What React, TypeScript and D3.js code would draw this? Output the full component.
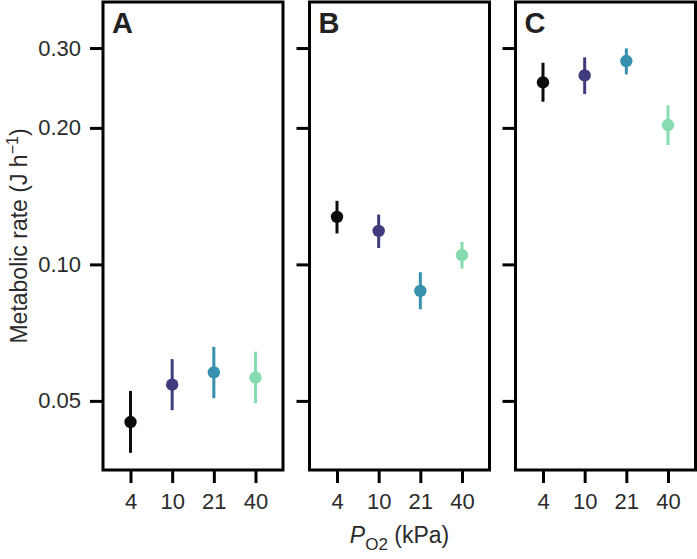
import React, { useEffect, useRef } from "react";
import { select, scaleLog, scalePoint, axisLeft, axisBottom } from "d3";

// x categories (PO2, kPa) and panel names
const pO2 = ["4", "10", "21", "40"];
const panels = ["A", "B", "C"];
const colors = ["#0b0b0b", "#3e3b7e", "#3591ad", "#86dcb0"];

// metabolic rate (J h-1), mean and error bar limits
const meanA = [0.0449, 0.0543, 0.0578, 0.0563];
const lowA = [0.0384, 0.0477, 0.0507, 0.0494];
const highA = [0.0526, 0.0618, 0.0658, 0.0642];

const meanB = [0.1273, 0.1185, 0.0874, 0.1048];
const lowB = [0.117, 0.1087, 0.0796, 0.0979];
const highB = [0.1381, 0.1288, 0.0961, 0.1121];

const meanC = [0.252, 0.2611, 0.2808, 0.2029];
const lowC = [0.2284, 0.2374, 0.2624, 0.1833];
const highC = [0.2784, 0.2861, 0.2995, 0.2242];

const yTicks = [0.05, 0.1, 0.2, 0.3];

const W = 697;
const H = 559;

function App() {
  const svgRef = useRef<SVGSVGElement>(null);

  useEffect(() => {
    const svg = select(svgRef.current);
    svg.selectAll("*").remove();

    const top = 2;
    const bottom = 470;
    const panelW = 180;
    const lefts = [103, 309.5, 515.5];
    const font = "'Liberation Sans', Arial, Helvetica, sans-serif";

    const yScale = scaleLog().domain([0.0352, 0.379]).range([bottom, top]);

    const series = [
      { mean: meanA, low: lowA, high: highA },
      { mean: meanB, low: lowB, high: highB },
      { mean: meanC, low: lowC, high: highC },
    ];

    panels.forEach((name, i) => {
      const left = lefts[i];
      const xScale = scalePoint()
        .domain(pO2)
        .range([left, left + panelW])
        .padding(0.66);

      const g = svg.append("g");

      // y axis (labels only on first panel)
      const yAxis = axisLeft(yScale)
        .tickValues(yTicks)
        .tickSize(13)
        .tickPadding(9)
        .tickFormat((d: any) => (i === 0 ? Number(d).toFixed(2) : ""));
      const ya = g.append("g").attr("transform", `translate(${left},0)`).call(yAxis);
      ya.select(".domain").remove();
      ya.selectAll("line").attr("stroke", "#000").attr("stroke-width", 3);
      ya.selectAll("text")
        .attr("fill", "#2b2b2b")
        .style("font-family", font)
        .style("font-size", "22px");

      // x axis
      const xAxis = axisBottom(xScale).tickSize(13).tickPadding(10);
      const xa = g.append("g").attr("transform", `translate(0,${bottom})`).call(xAxis);
      xa.select(".domain").remove();
      xa.selectAll("line").attr("stroke", "#000").attr("stroke-width", 3);
      xa.selectAll("text")
        .attr("fill", "#2b2b2b")
        .style("font-family", font)
        .style("font-size", "22px");

      // panel border
      g.append("rect")
        .attr("x", left)
        .attr("y", top)
        .attr("width", panelW)
        .attr("height", bottom - top)
        .attr("fill", "none")
        .attr("stroke", "#000")
        .attr("stroke-width", 3);

      // panel letter
      g.append("text")
        .attr("x", left + 9)
        .attr("y", top + 31)
        .attr("fill", "#222")
        .style("font-family", font)
        .style("font-weight", "bold")
        .style("font-size", "29px")
        .text(name);

      const s = series[i];
      // error bars
      g.selectAll(".err")
        .data(pO2)
        .join("line")
        .attr("x1", d => xScale(d)!)
        .attr("x2", d => xScale(d)!)
        .attr("y1", (d, j) => yScale(s.low[j]))
        .attr("y2", (d, j) => yScale(s.high[j]))
        .attr("stroke", (d, j) => colors[j])
        .attr("stroke-width", 3);

      // points
      g.selectAll(".pt")
        .data(pO2)
        .join("circle")
        .attr("cx", d => xScale(d)!)
        .attr("cy", (d, j) => yScale(s.mean[j]))
        .attr("r", 6.2)
        .attr("fill", (d, j) => colors[j]);
    });

    // y axis title
    svg.append("text")
      .attr("transform", `translate(27,${(top + bottom) / 2}) rotate(-90)`)
      .attr("text-anchor", "middle")
      .attr("fill", "#2b2b2b")
      .style("font-family", font)
      .style("font-size", "23px")
      .html('Metabolic rate (J h<tspan dy="-9" font-size="16">\u22121</tspan><tspan dy="9">)</tspan>');

    // x axis title
    svg.append("text")
      .attr("x", lefts[1] + panelW / 2)
      .attr("y", 543)
      .attr("text-anchor", "middle")
      .attr("fill", "#2b2b2b")
      .style("font-family", font)
      .style("font-size", "23px")
      .html('<tspan font-style="italic">P</tspan><tspan dy="7" font-size="17">O2</tspan><tspan dy="-7"> (kPa)</tspan>');
  }, []);

  return (
    <svg
      ref={svgRef}
      width={W}
      height={H}
      style={{ position: "absolute", left: 0, top: 0, background: "#fff" }}
    />
  );
}

export default App;
